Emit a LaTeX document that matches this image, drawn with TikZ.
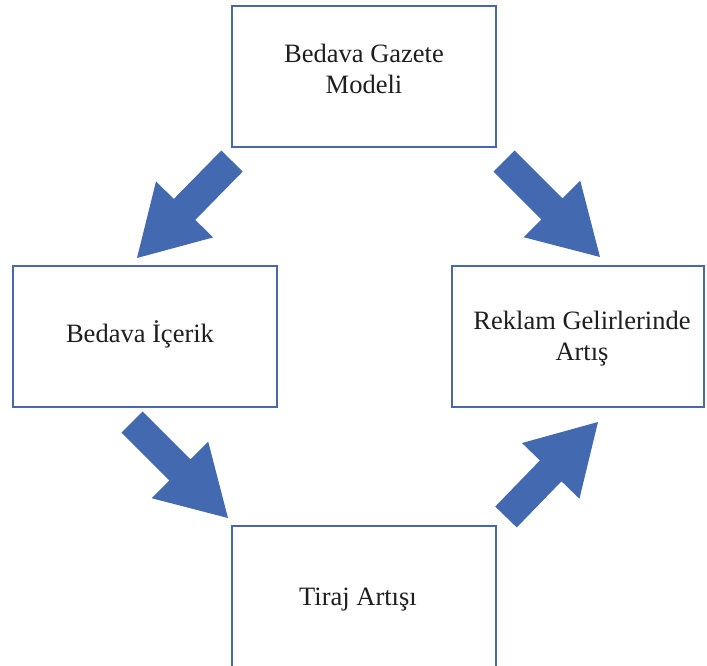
\documentclass[tikz,border=0pt]{standalone}
\usepackage{fontspec}
\setmainfont{Liberation Serif}
\usetikzlibrary{calc}
\definecolor{boxblue}{RGB}{72,104,170}
\definecolor{arrowfill}{RGB}{67,106,176}
\definecolor{txt}{RGB}{30,30,30}
\tikzset{
  box/.style={draw=boxblue, line width=1.8pt, fill=white, inner sep=0pt},
  lblone/.style={font=\fontsize{26.5}{31}\selectfont, text=txt, align=center, inner sep=0pt, text height=17.5pt, text depth=0pt},
  lbltwo/.style={font=\fontsize{26.5}{31}\selectfont, text=txt, align=center, inner sep=0pt, text height=48.5pt, text depth=0pt},
}
\newcommand\blockarrow[2]{%
  \coordinate (#1h) at ($(#2)!68pt!(#1)$);
  \fill[arrowfill] ($(#1)!15pt!90:(#2)$) -- ($(#1h)!15pt!90:(#2)$) -- ($(#1h)!40pt!90:(#2)$) -- (#2)
    -- ($(#1h)!40pt!-90:(#2)$) -- ($(#1h)!15pt!-90:(#2)$) -- ($(#1)!15pt!-90:(#2)$) -- cycle;}
\begin{document}
\begin{tikzpicture}[x=1pt,y=-1pt]
\useasboundingbox (0,0) rectangle (707,665);
\fill[white] (0,0) rectangle (707,665);
% boxes
\node[box, minimum width=264pt, minimum height=141pt] (top) at (364,76.5) {};
\node[box, minimum width=264pt, minimum height=141pt] (left) at (145,336.5) {};
\node[box, minimum width=252pt, minimum height=141pt] (right) at (578,336.5) {};
\node[box, minimum width=264pt, minimum height=146pt] (bottom) at (364,599) {};
% labels
\node[lbltwo] (toptext) at (364,69) {Bedava Gazete\\Modeli};
\node[lblone] (lefttext) at (140,334) {Bedava İçerik};
\node[lbltwo] (righttext) at (582,336) {Reklam Gelirlerinde\\Artış};
\node[lblone] (bottomtext) at (358,597) {Tiraj Artışı};
% arrows
\coordinate (a1t) at (232,161); \coordinate (a1p) at (137,258);
\coordinate (a2t) at (504,161); \coordinate (a2p) at (600,257);
\coordinate (a3t) at (132,422); \coordinate (a3p) at (228,518);
\coordinate (a4t) at (506,517); \coordinate (a4p) at (598,422);
\blockarrow{a1t}{a1p}
\blockarrow{a2t}{a2p}
\blockarrow{a3t}{a3p}
\blockarrow{a4t}{a4p}
\end{tikzpicture}
\end{document}
